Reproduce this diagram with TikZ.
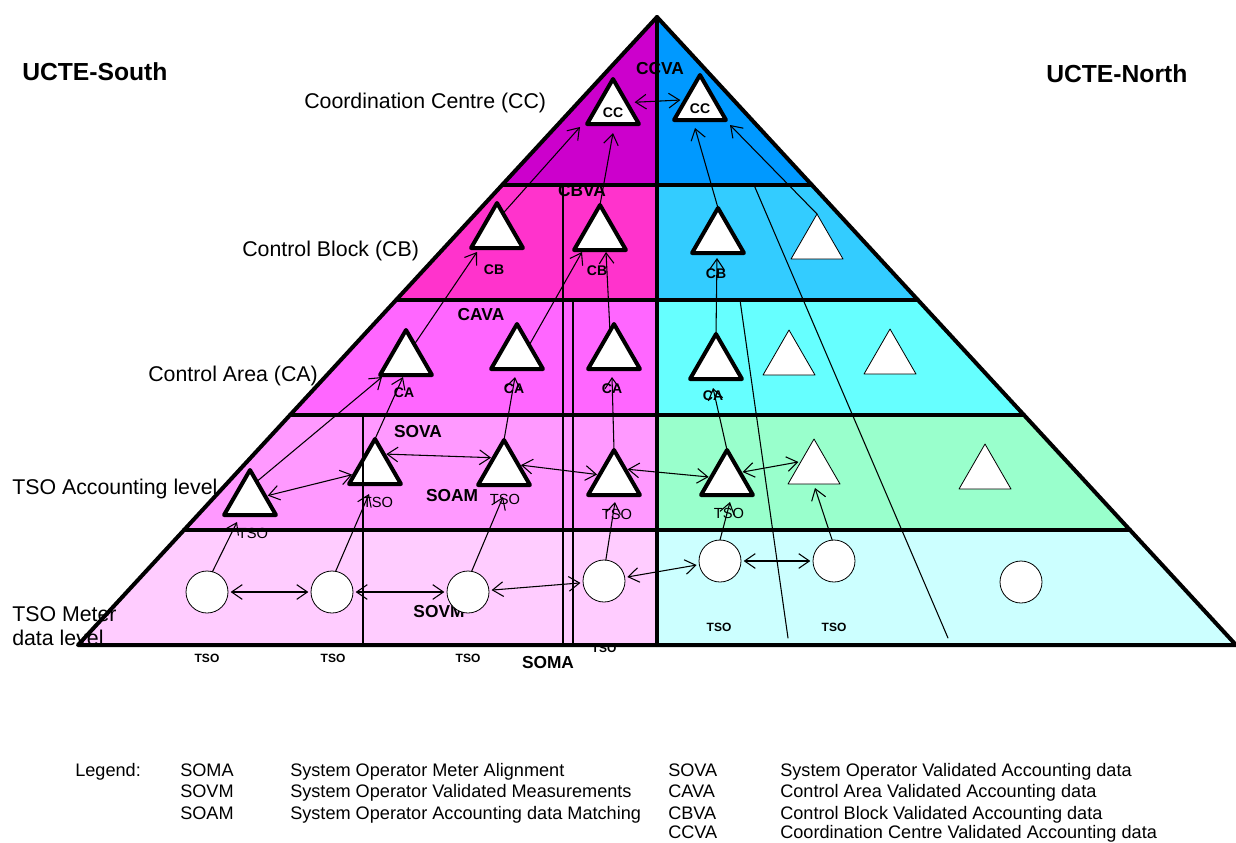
\documentclass[tikz,border=0pt]{standalone}
\usepackage{fontspec}
\setmainfont{Liberation Sans}
\usetikzlibrary{shapes.geometric,arrows.meta}
\definecolor{SCCfill}{RGB}{204,0,204}
\definecolor{SCBfill}{RGB}{255,51,204}
\definecolor{SCAfill}{RGB}{255,102,255}
\definecolor{STAfill}{RGB}{255,153,255}
\definecolor{SMEfill}{RGB}{255,204,255}
\definecolor{NCCfill}{RGB}{0,153,255}
\definecolor{NCBfill}{RGB}{51,204,255}
\definecolor{NCAfill}{RGB}{102,255,255}
\definecolor{NTAfill}{RGB}{153,255,204}
\definecolor{NMEfill}{RGB}{204,255,255}

\begin{document}
\begin{tikzpicture}[x=0.75pt,y=-0.75pt,line cap=round,line join=round,
  tri/.style={regular polygon,regular polygon sides=3,minimum size=45pt,inner sep=0pt,outer sep=0pt,draw,fill=white},
  boldtri/.style={tri,line width=3pt},
  thintri/.style={tri,line width=0.6pt},
  meter/.style={circle,draw,fill=white,line width=0.6pt,minimum size=31.5pt,inner sep=0pt,outer sep=0pt},
  link/.style={line width=0.8pt,-{Straight Barb[length=8pt,width=11pt]}},
  dlink/.style={line width=0.8pt,{Straight Barb[length=8pt,width=11pt]}-{Straight Barb[length=8pt,width=11pt]},shorten <=2pt,shorten >=2pt},
  band/.style={line width=3pt},
  divider/.style={line width=0.8pt},
  lvl/.style={font=\fontsize{16}{18}\selectfont,anchor=west,inner sep=0pt},
  side/.style={font=\bfseries\fontsize{18.5}{21}\selectfont,anchor=west,inner sep=0pt},
  tag/.style={font=\bfseries\fontsize{13}{15}\selectfont,inner sep=0pt},
  sub/.style={font=\bfseries\fontsize{10.5}{12}\selectfont,inner sep=0pt},
  tso/.style={font=\fontsize{11}{13}\selectfont,inner sep=0pt},
  basetso/.style={font=\bfseries\fontsize{9}{11}\selectfont,inner sep=0pt},
  leg/.style={font=\fontsize{13.6}{16}\selectfont,anchor=base west,inner sep=0pt}]
\path[use as bounding box] (0,0) rectangle (1236,843);

% bands, south half and north half
\fill[SCCfill] (657,17) -- (502.1,185) -- (657,185) -- cycle;
\fill[NCCfill] (657,17) -- (811.9,185) -- (657,185) -- cycle;
\fill[SCBfill] (502.1,185) -- (396.1,300) -- (657,300) -- (657,185) -- cycle;
\fill[NCBfill] (811.9,185) -- (917.9,300) -- (657,300) -- (657,185) -- cycle;
\fill[SCAfill] (396.1,300) -- (290,415) -- (657,415) -- (657,300) -- cycle;
\fill[NCAfill] (917.9,300) -- (1024,415) -- (657,415) -- (657,300) -- cycle;
\fill[STAfill] (290,415) -- (184,530) -- (657,530) -- (657,415) -- cycle;
\fill[NTAfill] (1024,415) -- (1130,530) -- (657,530) -- (657,415) -- cycle;
\fill[SMEfill] (184,530) -- (78,645) -- (657,645) -- (657,530) -- cycle;
\fill[NMEfill] (1130,530) -- (1236,645) -- (657,645) -- (657,530) -- cycle;

% level names
\node[side] (south) at (22,72) {UCTE-South};
\node[side] (north) at (1046,74) {UCTE-North};
\node[lvl] (lvlcc) at (304,103) {Coordination Centre (CC)};
\node[lvl] (lvlcb) at (242,251) {Control Block (CB)};
\node[lvl] (lvlca) at (148,376) {Control Area (CA)};
\node[lvl] (lvlta) at (12,489) {TSO Accounting level};
\node[lvl,align=left,font=\fontsize{16}{18}\selectfont] (lvlme) at (12,626) {TSO Meter\\data level};

% process tags
\node[tag] (ccva) at (660,69) {CCVA};
\node[tag] (cbva) at (582,191) {CBVA};
\node[tag] (cava) at (481,315) {CAVA};
\node[tag] (sova) at (418,432) {SOVA};
\node[tag] (soam) at (452,496) {SOAM};
\node[tag] (sovm) at (439,612) {SOVM};
\node[tag] (soma) at (548,663) {SOMA};

\draw[band] (78,645) -- (657,17) -- (1236,645) -- cycle;
\draw[band] (502.1,185) -- (811.9,185);
\draw[band] (396.1,300) -- (917.9,300);
\draw[band] (290,415) -- (1024,415);
\draw[band] (184,530) -- (1130,530);
\draw[band] (657,17) -- (657,645);

% coordination centres
\node[boldtri] (ccs) at (613,109) {};
\node[boldtri] (ccn) at (700,105) {};
% control blocks
\node[boldtri] (cbs1) at (497,233) {};
\node[boldtri] (cbs2) at (600,235) {};
\node[boldtri] (cbn1) at (718,238) {};
\node[thintri] (cbn2) at (817,244) {};
% control areas
\node[boldtri] (cas1) at (406,360) {};
\node[boldtri] (cas2) at (517,354) {};
\node[boldtri] (cas3) at (614,354) {};
\node[boldtri] (can1) at (716,364) {};
\node[thintri] (can2) at (789,360) {};
\node[thintri] (can3) at (890,359) {};
% TSO accounting
\node[boldtri] (ts1) at (250,500) {};
\node[boldtri] (ts2) at (375,469) {};
\node[boldtri] (ts3) at (504,470) {};
\node[boldtri] (ts4) at (614,480) {};
\node[boldtri] (tn1) at (727,480) {};
\node[thintri] (tn2) at (814,469) {};
\node[thintri] (tn3) at (985,474) {};
% TSO meter data
\node[meter] (m1) at (207,592) {};
\node[meter] (m2) at (332,592) {};
\node[meter] (m3) at (468,592) {};
\node[meter] (m4) at (604,581) {};
\node[meter] (m5) at (720,561) {};
\node[meter] (m6) at (834,561) {};
\node[meter] (m7) at (1021,582) {};

% SOMA and north boundaries
\draw[divider] (563,185) -- (563,645);
\draw[divider] (573,300) -- (573,645);
\draw[divider] (363,415) -- (363,645);
\draw[divider] (754,185) -- (948,638);
\draw[divider] (740,300) -- (788,638);

% matching between neighbours
\draw[dlink,shorten <=6pt,shorten >=4pt] (ccs.25) -- (ccn.160);
\draw[dlink] (ts1) -- (ts2);
\draw[dlink] (ts2.60) -- (ts3.130);
\draw[dlink] (ts3.20) -- (ts4.160);
\draw[dlink] (ts4.45) -- (tn1.170);
\draw[dlink] (tn1.30) -- (tn2.150);
\draw[dlink] (m1) -- (m2);
\draw[dlink] (m2) -- (m3);
\draw[dlink] (m3) -- (m4);
\draw[dlink] (m4) -- (m5);
\draw[dlink] (m5) -- (m6);

% meter data up to accounting
\draw[link] (m1.75) -- ([shift={(-13,7)}]ts1.270);
\draw[link] (m2.80) -- ([shift={(-6,10)}]ts2.270);
\draw[link] (m3.80) -- ([shift={(-1,12)}]ts3.270);
\draw[link] (m4.85) -- ([shift={(1,7)}]ts4.270);
\draw[link] (m5.90) -- ([shift={(3,7)}]tn1.270);
\draw[link] (m6.95) -- ([shift={(1,4)}]tn2.270);
% accounting up to control areas
\draw[link] (ts1.70) -- ([shift={(-24,2)}]cas1.270);
\draw[link] (ts2.corner 1) -- ([shift={(-3,2)}]cas1.270);
\draw[link] (ts3.corner 1) -- ([shift={(-2,8)}]cas2.270);
\draw[link] (ts4.corner 1) -- ([shift={(-2,8)}]cas3.270);
\draw[link] (tn1.corner 1) -- ([shift={(-3,9)}]can1.270);
% control areas up to control blocks
\draw[link] (cas1.62) -- ([shift={(-20,4)}]cbs1.270);
\draw[link] (cas2.36) -- ([shift={(-18,2)}]cbs2.270);
\draw[link] (cas3.100) -- ([shift={(6,2)}]cbs2.270);
\draw[link] (can1.corner 1) -- ([shift={(-1,5)}]cbn1.270);
% control blocks up to coordination centres
\draw[link] (cbs1.73) -- ([shift={(-33,3)}]ccs.270);
\draw[link] (cbs2.corner 1) -- ([shift={(0,9)}]ccs.270);
\draw[link] (cbn1.corner 1) -- ([shift={(-5,8)}]ccn.270);
\draw[link] (cbn2.corner 1) -- ([shift={(30,5)}]ccn.270);

% small labels
\node[sub] (ccslbl) at (613,113) {CC};
\node[sub] (ccnlbl) at (700,109) {CC};
\node[sub] (cbs1lbl) at (494,270) {CB};
\node[sub] (cbs2lbl) at (597,271) {CB};
\node[sub] (cbn1lbl) at (716,274) {CB};
\node[sub] (cas1lbl) at (404,393) {CA};
\node[sub] (cas2lbl) at (514,389) {CA};
\node[sub] (cas3lbl) at (612,389) {CA};
\node[sub] (can1lbl) at (713,396) {CA};
\node[tso] (ts1lbl) at (253,533) {TSO};
\node[tso] (ts2lbl) at (378,502) {TSO};
\node[tso] (ts3lbl) at (505,499) {TSO};
\node[tso] (ts4lbl) at (617,514) {TSO};
\node[tso] (tn1lbl) at (729,513) {TSO};
\node[basetso] (m1lbl) at (207,658) {TSO};
\node[basetso] (m2lbl) at (333,658) {TSO};
\node[basetso] (m3lbl) at (468,658) {TSO};
\node[basetso] (m4lbl) at (604,648) {TSO};
\node[basetso] (m5lbl) at (719,627) {TSO};
\node[basetso] (m6lbl) at (834,627) {TSO};

% legend
\node[leg] (legend) at (75,776) {Legend:};
\node[leg] (lsoma) at (180,776) {SOMA};
\node[leg] (lsovm) at (180,797) {SOVM};
\node[leg] (lsoam) at (180,819) {SOAM};
\node[leg] (dsoma) at (290,776) {System Operator Meter Alignment};
\node[leg] (dsovm) at (290,797) {System Operator Validated Measurements};
\node[leg] (dsoam) at (290,819) {System Operator Accounting data Matching};
\node[leg] (lsova) at (668,776) {SOVA};
\node[leg] (lcava) at (668,797) {CAVA};
\node[leg] (lcbva) at (668,819) {CBVA};
\node[leg] (lccva) at (668,838) {CCVA};
\node[leg] (dsova) at (780,776) {System Operator Validated Accounting data};
\node[leg] (dcava) at (780,797) {Control Area Validated Accounting data};
\node[leg] (dcbva) at (780,819) {Control Block Validated Accounting data};
\node[leg] (dccva) at (780,838) {Coordination Centre Validated Accounting data};
\end{tikzpicture}
\end{document}
